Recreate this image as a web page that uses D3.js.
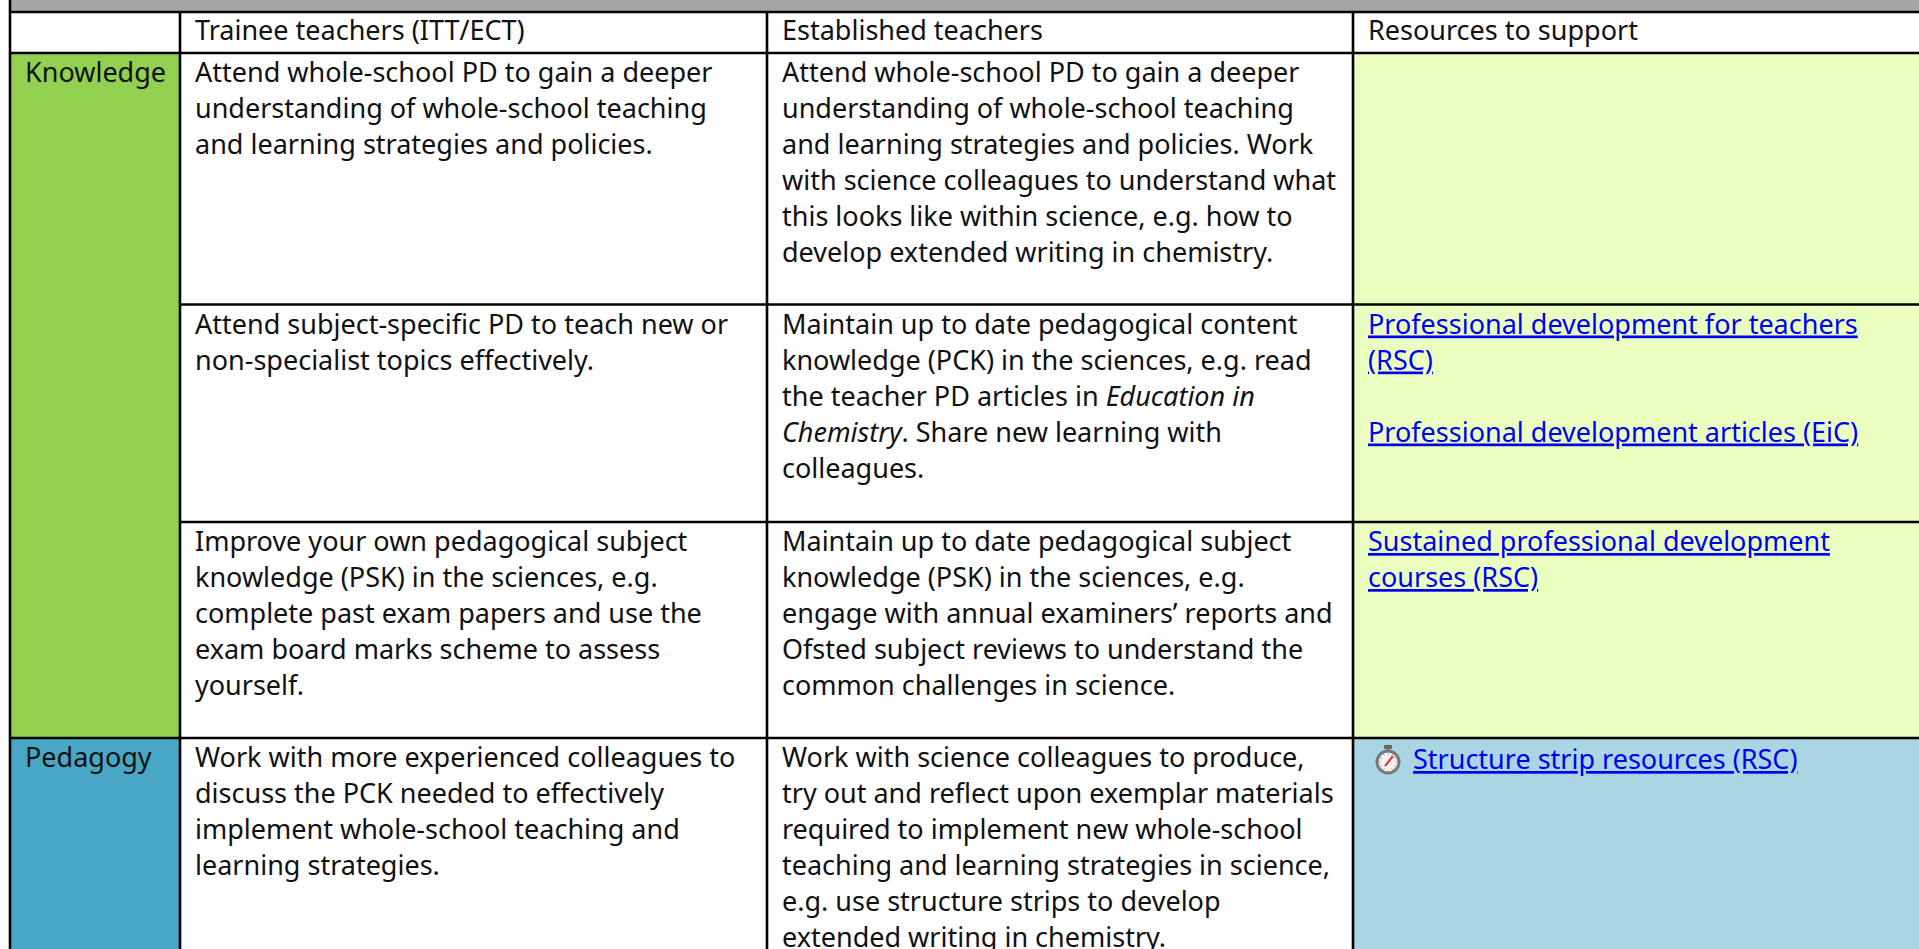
<!DOCTYPE html>
<html>
<head>
<meta charset="utf-8">
<script src="https://cdn.jsdelivr.net/npm/d3@7"></script>
<style>
    html, body { margin: 0; padding: 0; background: #fff; overflow: hidden; }
    text { font-family: "Noto Sans", sans-serif; font-size: 27px; fill: #111; }
    .link { fill: #0000f0; text-decoration: underline; }
</style>
</head>
<body>
<div id="table"></div>
<script>
'use strict'

// table content, one line of text per array item
const columns = ['', 'Trainee teachers (ITT/ECT)', 'Established teachers', 'Resources to support']
const sections = ['Knowledge', 'Pedagogy']

const trainee = [
    ['Attend whole-school PD to gain a deeper', 'understanding of whole-school teaching', 'and learning strategies and policies.'],
    ['Attend subject-specific PD to teach new or', 'non-specialist topics effectively.'],
    ['Improve your own pedagogical subject', 'knowledge (PSK) in the sciences, e.g.', 'complete past exam papers and use the', 'exam board marks scheme to assess', 'yourself.'],
    ['Work with more experienced colleagues to', 'discuss the PCK needed to effectively', 'implement whole-school teaching and', 'learning strategies.']
]

const established = [
    ['Attend whole-school PD to gain a deeper', 'understanding of whole-school teaching', 'and learning strategies and policies. Work', 'with science colleagues to understand what', 'this looks like within science, e.g. how to', 'develop extended writing in chemistry.'],
    ['Maintain up to date pedagogical content', 'knowledge (PCK) in the sciences, e.g. read', 'the teacher PD articles in <i>Education in</i>', '<i>Chemistry</i>. Share new learning with', 'colleagues.'],
    ['Maintain up to date pedagogical subject', 'knowledge (PSK) in the sciences, e.g.', 'engage with annual examiners’ reports and', 'Ofsted subject reviews to understand the', 'common challenges in science.'],
    ['Work with science colleagues to produce,', 'try out and reflect upon exemplar materials', 'required to implement new whole-school', 'teaching and learning strategies in science,', 'e.g. use structure strips to develop', 'extended writing in chemistry.']
]

const resources = [
    [],
    ['Professional development for teachers', '(RSC)', '', 'Professional development articles (EiC)'],
    ['Sustained professional development', 'courses (RSC)'],
    ['Structure strip resources (RSC)']
]

const rowSection = [0, 0, 0, 1]

////////////////////////////////////
//////////// svg setup /////////////
////////////////////////////////////

const svgWidth = 1919
const svgHeight = 949

const svg = d3.select('#table')
    .append('svg')
    .attr('width', svgWidth)
    .attr('height', svgHeight)
    .style('display', 'block')

// column and row edges in table units
const x = d3.scaleLinear().domain([0, 1, 2, 3, 4]).range([10, 180, 767, 1353, 1925])
const y = d3.scaleLinear().domain([0, 1, 2, 3, 4]).range([53, 304.5, 522, 738, 1000])

const lineHeight = 36
const firstBaseline = 29
const padLeft = { label: 15, text: 15 }

const sectionFill = ['#92d050', '#47a7c4']
const resourceFill = ['#eaffbf', '#aad6e3']

////////////////////////////////////
//////////// backgrounds ///////////
////////////////////////////////////

svg.append('rect')
    .attr('x', x(0)).attr('y', 0)
    .attr('width', svgWidth).attr('height', 12)
    .attr('fill', '#a6a6a6')

const rowIdx = d3.range(trainee.length)

svg.selectAll('.section-cell')
    .data(sections)
    .join('rect')
    .attr('class', 'section-cell')
    .attr('x', x(0))
    .attr('y', (d, i) => y(rowSection.indexOf(i)))
    .attr('width', x(1) - x(0))
    .attr('height', (d, i) => y(rowSection.lastIndexOf(i) + 1) - y(rowSection.indexOf(i)))
    .attr('fill', (d, i) => sectionFill[i])

svg.selectAll('.resource-cell')
    .data(rowIdx)
    .join('rect')
    .attr('class', 'resource-cell')
    .attr('x', x(3))
    .attr('y', d => y(d))
    .attr('width', x(4) - x(3))
    .attr('height', d => y(d + 1) - y(d))
    .attr('fill', d => resourceFill[rowSection[d]])

////////////////////////////////////
//////////// grid lines ////////////
////////////////////////////////////

const grid = svg.append('g').attr('stroke', '#000').attr('stroke-width', 2.6)

// left border runs up through the grey band, the others start below it
grid.selectAll('.v')
    .data(d3.range(4))
    .join('line')
    .attr('x1', d => x(d)).attr('x2', d => x(d))
    .attr('y1', d => d === 0 ? 0 : 12).attr('y2', svgHeight)

grid.selectAll('.h')
    .data([12, 53])
    .join('line')
    .attr('x1', x(0)).attr('x2', svgWidth)
    .attr('y1', d => d).attr('y2', d => d)

// row lines, the section column has no line between its knowledge rows
grid.selectAll('.r')
    .data(d3.range(1, rowIdx.length))
    .join('line')
    .attr('x1', d => rowSection[d] === rowSection[d - 1] ? x(1) : x(0))
    .attr('x2', svgWidth)
    .attr('y1', d => y(d)).attr('y2', d => y(d))

////////////////////////////////////
//////////////// text //////////////
////////////////////////////////////

// writes one line, <i> parts become italic tspans
function addLine(g, line, px, py, cls) {
    const t = g.append('text').attr('x', px).attr('y', py).attr('class', cls || null)
    line.split(/(<i>.*?<\/i>)/).filter(s => s).forEach(part => {
        const italic = part.startsWith('<i>')
        t.append('tspan')
            .style('font-style', italic ? 'italic' : null)
            .text(part.replace(/<\/?i>/g, ''))
    })
}

const textLayer = svg.append('g')

columns.forEach((c, i) => {
    if (c) addLine(textLayer, c, x(i) + padLeft.text, 40)
})

sections.forEach((s, i) => {
    addLine(textLayer, s, x(0) + padLeft.label, y(rowSection.indexOf(i)) + firstBaseline)
})

rowIdx.forEach(r => {
    trainee[r].forEach((l, i) => addLine(textLayer, l, x(1) + padLeft.text, y(r) + firstBaseline + i * lineHeight))
    established[r].forEach((l, i) => addLine(textLayer, l, x(2) + padLeft.text, y(r) + firstBaseline + i * lineHeight))
})

rowIdx.forEach(r => {
    resources[r].forEach((l, i) => {
        if (!l) return
        // the last row starts after the stopwatch icon
        const icon = rowSection[r] === 1
        addLine(textLayer, l,
            x(3) + (icon ? 60 : padLeft.text),
            y(r) + firstBaseline + (icon ? 2 : 0) + i * lineHeight,
            'link')
    })
})

////////////////////////////////////
///////////// stopwatch ////////////
////////////////////////////////////

const watch = svg.append('g').attr('transform', `translate(${x(3) + 35},${y(3) + 24})`)
watch.append('rect').attr('x', -4).attr('y', -17).attr('width', 8).attr('height', 4).attr('rx', 1).attr('fill', '#666')
watch.append('rect').attr('x', -1.5).attr('y', -14).attr('width', 3).attr('height', 4).attr('fill', '#777')
watch.append('circle').attr('r', 11).attr('fill', '#f4f4f4').attr('stroke', '#777').attr('stroke-width', 3)
watch.selectAll('.tick')
    .data(d3.range(12))
    .join('line')
    .attr('y1', -9).attr('y2', -7)
    .attr('transform', d => `rotate(${d * 30})`)
    .attr('stroke', '#aaa')
watch.append('line').attr('x1', -3).attr('y1', 4).attr('x2', 5).attr('y2', -6).attr('stroke', '#f02020').attr('stroke-width', 2)
</script>
</body>
</html>
